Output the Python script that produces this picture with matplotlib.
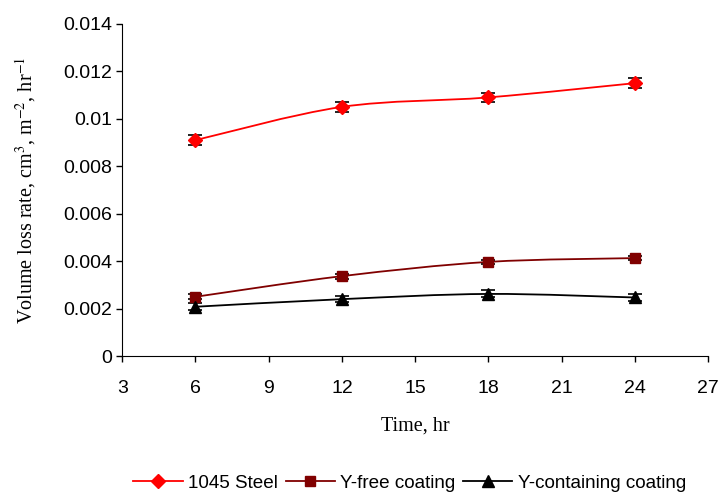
import numpy as np
import matplotlib
matplotlib.use('Agg')
import matplotlib.pyplot as plt
from matplotlib.path import Path
from matplotlib.patches import PathPatch
from matplotlib.lines import Line2D

plt.rcParams['font.family'] = ['Liberation Sans', 'DejaVu Sans']
plt.rcParams['mathtext.fontset'] = 'stix'

time_hr = [6, 12, 18, 24]
steel = [0.0091, 0.0105, 0.0109, 0.0115]
steel_err = [0.0002, 0.0002, 0.0002, 0.0002]
y_free = [0.0025, 0.00337, 0.00397, 0.00413]
y_free_err = [0.0001, 0.0001, 0.0001, 0.0001]
y_cont = [0.00208, 0.0024, 0.00262, 0.00247]
y_cont_err = [0.00015, 0.00012, 0.00015, 0.00015]

series = [
    ("1045 Steel", steel, steel_err, "#ff0000", "D", 7),
    ("Y-free coating", y_free, y_free_err, "#800000", "s", 7.5),
    ("Y-containing coating", y_cont, y_cont_err, "#000000", "^", 8),
]


def smooth_path(xs, ys):
    # Excel-style smoothed line: Catmull-Rom -> cubic Bezier segments
    p = np.column_stack([xs, ys]).astype(float)
    verts = [p[0]]
    codes = [Path.MOVETO]
    n = len(p)
    for i in range(n - 1):
        p0 = p[i - 1] if i > 0 else p[i]
        p1, p2 = p[i], p[i + 1]
        p3 = p[i + 2] if i + 2 < n else p[i + 1]
        verts += [p1 + (p2 - p0) / 6, p2 - (p3 - p1) / 6, p2]
        codes += [Path.CURVE4] * 3
    return Path(verts, codes)


fig = plt.figure(figsize=(7.19, 4.96), dpi=100)
ax = fig.add_axes([0.170, 0.282, 0.815, 0.670])

handles = []
for name, vals, err, col, mk, ms in series:
    ax.add_patch(PathPatch(smooth_path(time_hr, vals), facecolor='none',
                           edgecolor=col, lw=1.3, zorder=2))
    ax.errorbar(time_hr, vals, yerr=err, fmt='none', ecolor='black',
                elinewidth=1, capsize=5, capthick=1.2, zorder=3)
    ax.plot(time_hr, vals, linestyle='none', marker=mk, ms=ms,
            color=col, mec=col, zorder=4)
    handles.append(Line2D([], [], color=col, lw=1.3, marker=mk, ms=ms, mec=col))

ax.set_xlim(3, 27)
ax.set_ylim(0, 0.014)
ax.set_xticks(np.arange(3, 28, 3))
ax.set_yticks(np.arange(0, 0.0141, 0.002))
ax.set_yticklabels(['0', '0.002', '0.004', '0.006', '0.008', '0.01',
                    '0.012', '0.014'])
ax.tick_params(direction='out', length=4.3, width=1, labelsize=14)
ax.tick_params(axis='x', pad=13)
ax.tick_params(axis='y', pad=3)
ax.spines['top'].set_visible(False)
ax.spines['right'].set_visible(False)

ax.set_xlabel('Time, hr', family='Liberation Serif', fontsize=14.5, labelpad=14)
ax.set_ylabel(r'Volume loss rate, cm$^{3}$, m$^{-2}$, hr$^{-1}$',
              family='Liberation Serif', fontsize=14.5, labelpad=18)

fig.legend(handles, [s[0] for s in series], loc='lower center',
           bbox_to_anchor=(0.57, -0.026), ncol=3, frameon=False,
           fontsize=13.6, handlelength=2.6, columnspacing=0.4, handletextpad=0.3)

fig.savefig('out.png', dpi=100)
